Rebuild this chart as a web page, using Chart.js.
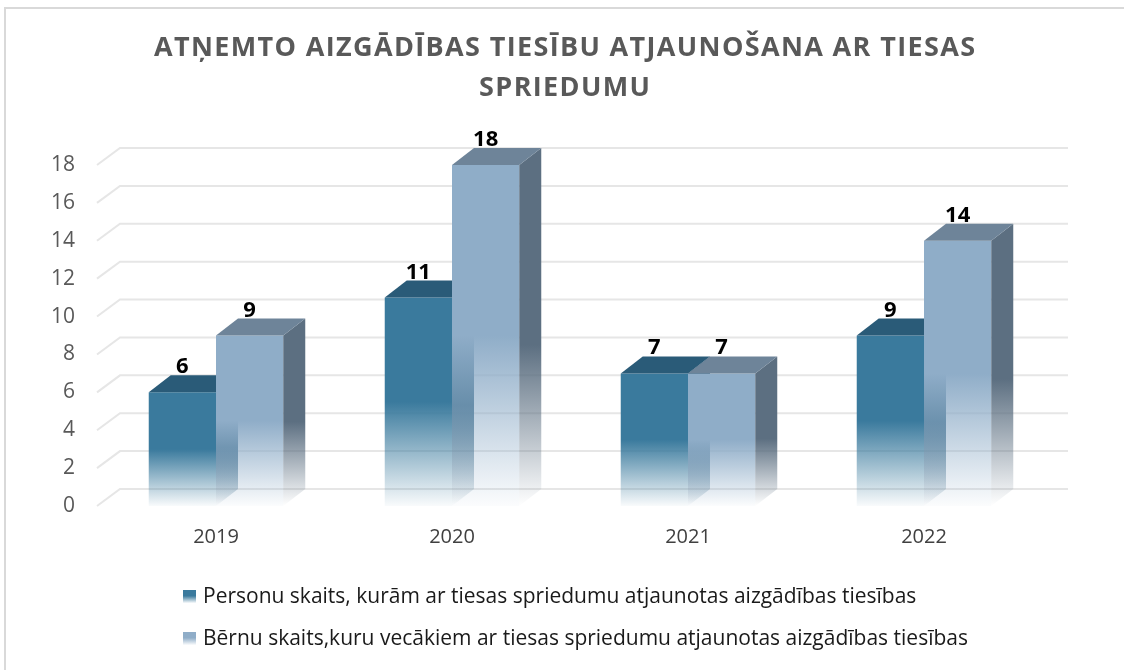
<!DOCTYPE html>
<html>
<head>
<meta charset="utf-8">
<script src="https://cdn.jsdelivr.net/npm/chart.js@4.4.1/dist/chart.umd.min.js"></script>
<style>
  html, body { margin: 0; padding: 0; background: #fff; }
  canvas { display: block; }
</style>
</head>
<body>
<canvas id="chart" width="1124" height="670"></canvas>
<script>
// Дані
const titleLines = ['ATŅEMTO AIZGĀDĪBAS TIESĪBU ATJAUNOŠANA AR TIESAS', 'SPRIEDUMU'];
const years = ['2019', '2020', '2021', '2022'];
const personas = [6, 11, 7, 9];
const berni = [9, 18, 7, 14];
const seriesNames = [
    'Personu skaits, kurām ar tiesas spriedumu atjaunotas aizgādības tiesības',
    'Bērnu skaits,kuru vecākiem ar tiesas spriedumu atjaunotas aizgādības tiesības'
];
const yMax = 18;
const yStep = 2;

// 3D look
const DX = 22, DY = -17;
const COLORS = [
    { front: [58, 122, 157], top: [42, 91, 120], side: [44, 95, 125] },
    { front: [143, 173, 200], top: [110, 132, 153], side: [92, 111, 129] }
];
const FONT = '"Open Sans", "DejaVu Sans", sans-serif';

function rgba(c, a) { return `rgba(${c[0]},${c[1]},${c[2]},${a})`; }

function fade(ctx, yTop, yBase, c, hold) {
    const g = ctx.createLinearGradient(0, yTop, 0, yBase);
    g.addColorStop(0, rgba(c, 1));
    g.addColorStop(hold, rgba(c, 1));
    g.addColorStop(1, rgba(c, 0.03));
    return g;
}

function frontFill(i) {
    return c => {
        const chart = c.chart;
        if (!chart.chartArea || c.raw === undefined) return rgba(COLORS[i].front, 1);
        const ys = chart.scales.y;
        return fade(chart.ctx, ys.getPixelForValue(c.raw), ys.getPixelForValue(0), COLORS[i].front, 0.5);
    };
}

const bar3d = {
    id: 'bar3d',
    beforeDraw(chart) {
        const ctx = chart.ctx;
        ctx.save();
        ctx.fillStyle = '#fff';
        ctx.fillRect(0, 0, chart.width, chart.height);
        // рамка
        ctx.strokeStyle = '#d9d9d9';
        ctx.lineWidth = 2;
        ctx.beginPath();
        ctx.moveTo(5, chart.height);
        ctx.lineTo(5, 8);
        ctx.lineTo(chart.width, 8);
        ctx.stroke();

        // заголовок
        ctx.fillStyle = '#595959';
        ctx.font = 'bold 27px ' + FONT;
        ctx.textBaseline = 'middle';
        const w0 = ctx.measureText(titleLines[0]).width;
        const sp = (821 - w0) / (titleLines[0].length - 1);
        ctx.letterSpacing = sp + 'px';
        titleLines.forEach((line, k) => {
            const w = ctx.measureText(line).width - sp;
            ctx.fillText(line, 564.5 - w / 2, 48 + k * 40);
        });
        ctx.letterSpacing = '0px';

        // легенда
        ctx.font = '21px ' + FONT;
        ctx.textBaseline = 'middle';
        seriesNames.forEach((name, i) => {
            const y = 596 + i * 42;
            ctx.fillStyle = fade(ctx, y - 6, y + 7, COLORS[i].front, 0.45);
            ctx.fillRect(183, y - 6, 13, 13);
            ctx.fillStyle = '#1a1a1a';
            ctx.fillText(name, 203, y + 1);
        });
        ctx.restore();
    },
    beforeDatasetsDraw(chart) {
        const ctx = chart.ctx, a = chart.chartArea, ys = chart.scales.y;
        ctx.save();
        ctx.strokeStyle = '#e6e6e6';
        ctx.lineWidth = 2;
        ys.ticks.forEach(t => {
            const y = ys.getPixelForValue(t.value);
            ctx.beginPath();
            ctx.moveTo(a.left - 1, y);
            ctx.lineTo(a.left + DX, y + DY);
            ctx.lineTo(a.right + DX + 4, y + DY);
            ctx.stroke();
        });
        ctx.restore();
    },
    // stock drawing is skipped, bars are painted below in left-to-right order
    beforeDatasetDraw() {
        return false;
    },
    afterDatasetsDraw(chart) {
        const ctx = chart.ctx;
        ctx.save();
        chart.data.datasets.forEach((ds, i) => {
            const col = COLORS[i];
            chart.getDatasetMeta(i).data.forEach(el => {
                el.draw(ctx, chart.chartArea);
                const { x, y, base, width } = el.getProps(['x', 'y', 'base', 'width'], true);
                const x0 = x - width / 2, x1 = x + width / 2;
                // бічна грань
                const g = ctx.createLinearGradient(0, y + DY, 0, base);
                g.addColorStop(0, rgba(col.side, 1));
                g.addColorStop(0.55, rgba(col.side, 1));
                g.addColorStop(1, rgba(col.side, 0));
                ctx.fillStyle = g;
                ctx.beginPath();
                ctx.moveTo(x1, y);
                ctx.lineTo(x1 + DX, y + DY);
                ctx.lineTo(x1 + DX, base + DY);
                ctx.lineTo(x1, base);
                ctx.closePath();
                ctx.fill();
                // верхня грань
                ctx.fillStyle = rgba(col.top, 1);
                ctx.beginPath();
                ctx.moveTo(x0, y);
                ctx.lineTo(x1, y);
                ctx.lineTo(x1 + DX, y + DY);
                ctx.lineTo(x0 + DX, y + DY);
                ctx.closePath();
                ctx.fill();
            });
        });

        // підписи значень
        ctx.fillStyle = '#000';
        ctx.font = 'bold 22px ' + FONT;
        ctx.textAlign = 'center';
        ctx.textBaseline = 'alphabetic';
        chart.data.datasets.forEach((ds, i) => {
            chart.getDatasetMeta(i).data.forEach((el, j) => {
                const { x, y } = el.getProps(['x', 'y'], true);
                ctx.fillText(String(ds.data[j]), x, y + DY - 2);
            });
        });
        ctx.restore();
    }
};

const ctx = document.getElementById('chart').getContext('2d');
const chart = new Chart(ctx, {
    type: 'bar',
    data: {
        labels: years,
        datasets: [
            {
                label: seriesNames[0],
                data: personas,
                backgroundColor: frontFill(0),
                borderWidth: 0,
                categoryPercentage: 0.57,
                barPercentage: 1
            },
            {
                label: seriesNames[1],
                data: berni,
                backgroundColor: frontFill(1),
                borderWidth: 0,
                categoryPercentage: 0.57,
                barPercentage: 1
            }
        ]
    },
    options: {
        responsive: false,
        animation: false,
        events: [],
        layout: { padding: { left: 0, right: 82, top: 165, bottom: 0 } },
        plugins: {
            legend: { display: false },
            title: { display: false },
            tooltip: { enabled: false }
        },
        scales: {
            x: {
                grid: { display: false, drawTicks: false },
                border: { display: false },
                ticks: { color: '#404040', font: { family: FONT, size: 20 }, padding: 19 },
                afterFit: s => { s.height = 164; }
            },
            y: {
                min: 0,
                max: yMax,
                grid: { display: false, drawTicks: false },
                border: { display: false },
                ticks: { stepSize: yStep, color: '#595959', font: { family: FONT, size: 21 }, padding: 23 },
                afterFit: s => { s.width = 98; }
            }
        }
    },
    plugins: [bar3d]
});
</script>
</body>
</html>
